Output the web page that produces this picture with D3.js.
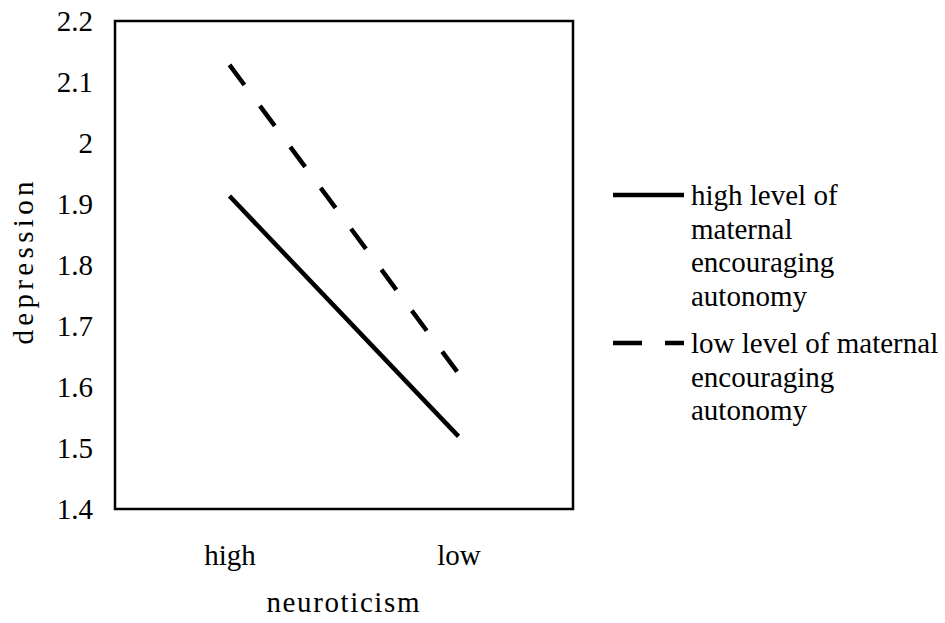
<!DOCTYPE html>
<html><head><meta charset="utf-8">
<script src="https://cdn.jsdelivr.net/npm/d3@7"></script>
<style>body{margin:0;background:#fff}svg text{font-family:"Liberation Serif","Times New Roman",serif;fill:#000}</style>
</head><body><svg id="c" width="945" height="623"></svg>
<script>
const categories = ["high", "low"];
const highAutonomy = [1.913, 1.519];
const lowAutonomy = [2.128, 1.622];
const yTicks = [1.4, 1.5, 1.6, 1.7, 1.8, 1.9, 2, 2.1, 2.2];
const seriesNames = ["high level of|maternal|encouraging|autonomy", "low level of maternal|encouraging|autonomy"];

const svg = d3.select("#c");
const L = 115, R = 573, T = 21, B = 509;
const x = d3.scalePoint().domain(categories).range([L, R]).padding(0.5);
const y = d3.scaleLinear().domain([1.4, 2.2]).range([B, T]);
const fs = 29;

// frame
svg.append("rect").attr("x", L).attr("y", T).attr("width", R - L).attr("height", B - T)
  .attr("fill", "none").attr("stroke", "#000").attr("stroke-width", 2.5);

// y axis labels
const yAxis = d3.axisLeft(y).tickValues(yTicks).tickSize(0).tickPadding(22).tickFormat(d3.format("~g"));
const gy = svg.append("g").attr("transform", `translate(${L},0)`).call(yAxis);
gy.select(".domain").remove();
gy.selectAll("text").attr("font-size", fs).attr("font-family", "Liberation Serif").attr("fill", "#000");

// x axis labels
const xAxis = d3.axisBottom(x).tickSize(0).tickPadding(35);
const gx = svg.append("g").attr("transform", `translate(0,${B})`).call(xAxis);
gx.select(".domain").remove();
gx.selectAll("text").attr("font-size", fs).attr("font-family", "Liberation Serif").attr("fill", "#000");

// axis titles
svg.append("text").attr("x", 343).attr("y", 612).attr("text-anchor", "middle").attr("font-size", fs)
  .attr("textLength", 153).attr("lengthAdjust", "spacing").text("neuroticism");
svg.append("text").attr("transform", "translate(33,263) rotate(-90)").attr("text-anchor", "middle").attr("font-size", fs)
  .attr("textLength", 163).attr("lengthAdjust", "spacing").text("depression");

const line = d3.line().x((d, i) => x(categories[i])).y(d => y(d));
svg.append("path").datum(highAutonomy).attr("d", line).attr("fill", "none").attr("stroke", "#000").attr("stroke-width", 4.5);
svg.append("path").datum(lowAutonomy).attr("d", line).attr("fill", "none").attr("stroke", "#000").attr("stroke-width", 4.5).attr("stroke-dasharray", "25,26");

// legend
const leg = [{y: 195, dash: null, lines: seriesNames[0].split("|")}, {y: 343, dash: "29,23", lines: seriesNames[1].split("|")}];
leg.forEach(l => {
  const p = svg.append("line").attr("x1", 613).attr("x2", 684).attr("y1", l.y).attr("y2", l.y).attr("stroke", "#000").attr("stroke-width", 4.5);
  if (l.dash) p.attr("stroke-dasharray", l.dash);
  l.lines.forEach((t, i) => {
    svg.append("text").attr("x", 691).attr("y", l.y + 10 + i * 33.5).attr("font-size", fs).text(t);
  });
});
</script></body></html>
